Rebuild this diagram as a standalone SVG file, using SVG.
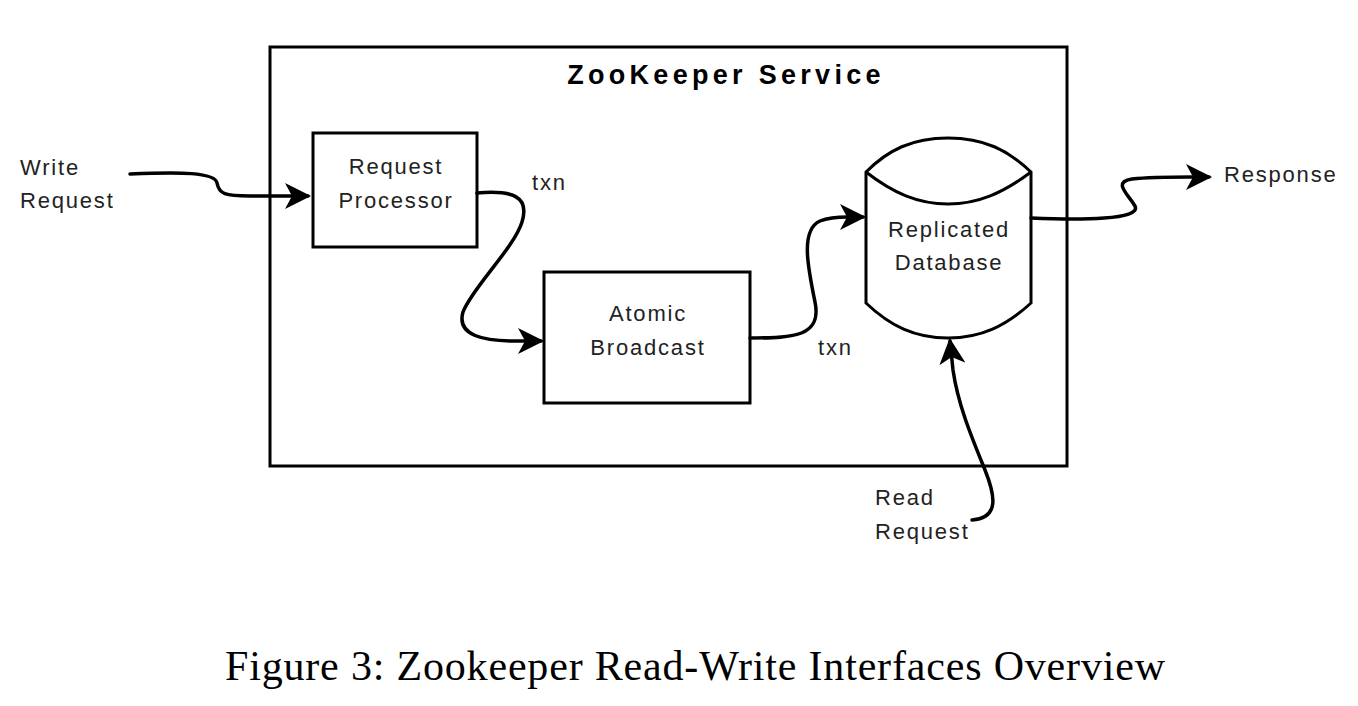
<svg xmlns="http://www.w3.org/2000/svg" width="1358" height="706" viewBox="0 0 1358 706">
<style>
.box{fill:#fff;stroke:#000;stroke-width:3}
.lbl{font-family:"Liberation Sans",Arial,sans-serif;font-size:22px;letter-spacing:1.8px;fill:#222}
.c{text-anchor:middle}
.conn{fill:none;stroke:#000;stroke-width:3.5;stroke-linecap:round}
.title{font-family:"Liberation Sans",Arial,sans-serif;font-size:27px;font-weight:bold;letter-spacing:4.3px;fill:#000;text-anchor:middle}
.cap{font-family:"Liberation Serif","Times New Roman",serif;font-size:42px;fill:#000}
</style>
<defs>
<marker id="arr" viewBox="0 0 26 26" refX="23" refY="13" markerWidth="26" markerHeight="26" markerUnits="userSpaceOnUse" orient="auto">
<path d="M0,0 L26,13 L0,26 L7,13 Z" fill="#000"/>
</marker>
</defs>
<rect width="1358" height="706" fill="#fff"/>
<g id="service">
<rect class="box" x="270" y="47" width="797" height="419" fill="none"/>
<text class="title" x="726" y="84">ZooKeeper Service</text>
</g>
<g id="request-processor">
<rect class="box" x="313" y="133" width="164" height="114"/>
<text class="lbl c" x="396" y="174">Request</text>
<text class="lbl c" x="396" y="208">Processor</text>
</g>
<g id="atomic-broadcast">
<rect class="box" x="544" y="272" width="206" height="131"/>
<text class="lbl c" x="648" y="321">Atomic</text>
<text class="lbl c" x="648" y="355">Broadcast</text>
</g>
<g id="replicated-database">
<path class="box" d="M866,172 C888,150 912,138 948,138 C984,138 1008,150 1031,172 L1031,303 C1006,326 981,338 948,338 C915,338 890,326 866,303 Z"/>
<path d="M866,172 C893,193 918,204 948,204 C978,204 1003,193 1031,172" fill="none" stroke="#000" stroke-width="3"/>
<text class="lbl c" x="949" y="237">Replicated</text>
<text class="lbl c" x="949" y="270">Database</text>
</g>
<g id="write-request">
<text class="lbl" x="20" y="175">Write</text>
<text class="lbl" x="20" y="208">Request</text>
</g>
<g id="response">
<text class="lbl" x="1224" y="182">Response</text>
</g>
<g id="read-request">
<text class="lbl" x="875" y="505">Read</text>
<text class="lbl" x="875" y="539">Request</text>
</g>
<g id="connectors">
<path class="conn" marker-end="url(#arr)" d="M130,174 C180,172 215,172 217,183 C219,194 225,196 250,196 L308,196"/>
<path class="conn" marker-end="url(#arr)" d="M477,193 C512,190 530,196 522,222 C514,248 472,288 463,312 C456,336 485,341 515,341 L541,341"/>
<path class="conn" marker-end="url(#arr)" d="M750,338 C795,338 822,336 815,302 C808,268 800,230 820,221 C830,217 840,217 848,217 L863,217"/>
<path class="conn" marker-end="url(#arr)" d="M1031,218 C1080,220 1142,220 1135,206 C1128,194 1112,182 1132,179 C1150,177 1180,177 1192,177 L1209,177"/>
<path class="conn" marker-end="url(#arr)" d="M972,520 C1000,518 995,495 985,470 C972,438 958,405 953,370 L950,341"/>
<text class="lbl" x="532" y="190">txn</text>
<text class="lbl" x="818" y="355">txn</text>
</g>
<text class="cap" x="225" y="680" textLength="940" lengthAdjust="spacing">Figure 3: Zookeeper Read-Write Interfaces Overview</text>
</svg>
